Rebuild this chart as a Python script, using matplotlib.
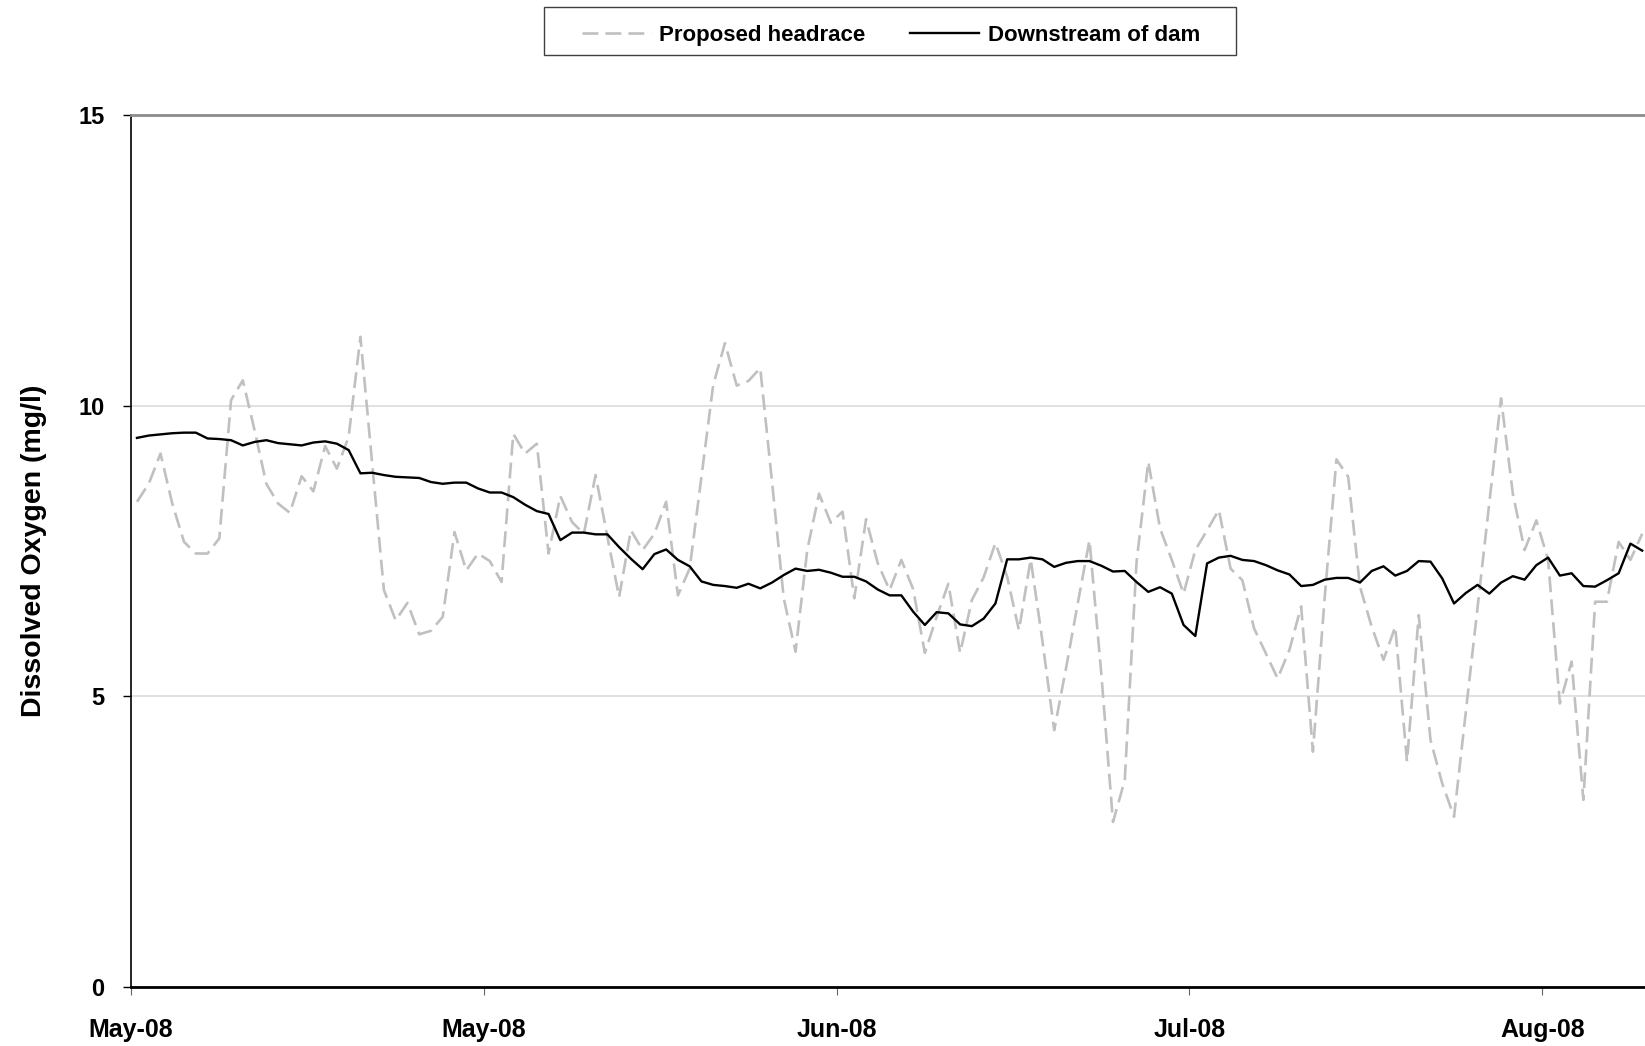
import matplotlib

matplotlib.use('Agg')

import matplotlib.dates as mdates
import matplotlib.patches as patches
import matplotlib.pyplot as plt
import pandas as pd

plt.rcParams['font.family'] = ['Liberation Sans', 'DejaVu Sans']
plt.rcParams['font.weight'] = 'bold'

# 日均溶解氧 (mg/l)，从 2008-05-01 开始逐日
start_date = '2008-05-01'

headrace = [
    8.35, 8.66, 9.18, 8.32, 7.66, 7.46, 7.46, 7.72, 10.10, 10.44,
    9.58, 8.66, 8.32, 8.16, 8.79, 8.53, 9.31, 8.92, 9.47, 11.19,
    9.00, 6.83, 6.31, 6.61, 6.07, 6.13, 6.37, 7.83, 7.17, 7.46,
    7.33, 6.97, 9.52, 9.18, 9.35, 7.46, 8.45, 8.00, 7.80, 8.81,
    7.75, 6.71, 7.86, 7.52, 7.80, 8.35, 6.74, 7.20, 8.78, 10.36,
    11.08, 10.35, 10.43, 10.65, 8.70, 6.69, 5.77, 7.52, 8.49, 7.99,
    8.18, 6.69, 8.05, 7.29, 6.83, 7.35, 6.85, 5.75, 6.37, 6.94,
    5.75, 6.66, 7.05, 7.64, 7.06, 6.14, 7.36, 5.95, 4.42, 5.48,
    6.60, 7.69, 5.40, 2.84, 3.56, 7.31, 9.04, 7.89, 7.35, 6.77,
    7.52, 7.86, 8.21, 7.20, 7.00, 6.17, 5.74, 5.31, 5.80, 6.55,
    4.05, 6.70, 9.08, 8.78, 6.89, 6.20, 5.63, 6.20, 3.88, 6.40,
    4.25, 3.50, 2.93, 4.73, 6.53, 8.33, 10.13, 8.49, 7.52, 8.03,
    7.35, 4.88, 5.60, 3.22, 6.63, 6.63, 7.66, 7.35, 7.80,
]

downstream = [
    9.45, 9.49, 9.51, 9.53, 9.54, 9.54, 9.44, 9.43, 9.41, 9.32,
    9.38, 9.41, 9.36, 9.34, 9.32, 9.37, 9.39, 9.35, 9.24, 8.84,
    8.85, 8.81, 8.78, 8.77, 8.76, 8.69, 8.66, 8.68, 8.68, 8.58,
    8.51, 8.51, 8.43, 8.30, 8.19, 8.14, 7.69, 7.82, 7.82, 7.79,
    7.79, 7.57, 7.37, 7.19, 7.45, 7.53, 7.35, 7.24, 6.98, 6.92,
    6.90, 6.87, 6.94, 6.86, 6.96, 7.09, 7.20, 7.16, 7.18, 7.13,
    7.06, 7.06, 6.98, 6.84, 6.74, 6.74, 6.46, 6.23, 6.45, 6.43,
    6.24, 6.21, 6.34, 6.60, 7.36, 7.36, 7.39, 7.36, 7.23, 7.30,
    7.33, 7.33, 7.25, 7.15, 7.16, 6.97, 6.80, 6.88, 6.77, 6.23,
    6.04, 7.29, 7.39, 7.42, 7.35, 7.33, 7.26, 7.17, 7.10, 6.90,
    6.92, 7.01, 7.04, 7.04, 6.96, 7.16, 7.24, 7.08, 7.16, 7.33,
    7.32, 7.03, 6.60, 6.78, 6.92, 6.77, 6.96, 7.07, 7.01, 7.26,
    7.39, 7.08, 7.12, 6.90, 6.89, 7.00, 7.12, 7.63, 7.51,
]

series_labels = ['Proposed headrace', 'Downstream of dam']
y_ticks = [0, 5, 10, 15]
tick_step_days = 30


def main():
    t0 = pd.Timestamp(start_date)
    # 每个点画在当天的中间
    dates = pd.date_range(t0, periods=len(headrace), freq='D') + pd.Timedelta(hours=12)

    fig = plt.figure(figsize=(16.45, 10.46), dpi=100)
    ax = fig.add_axes([0.0797, 0.0564, 0.9203, 0.8333])

    ax.plot(dates, headrace, color='#c0c0c0', lw=1.9,
            linestyle=(0, (6, 2.7)), label=series_labels[0])
    ax.plot(dates, downstream, color='black', lw=1.7,
            label=series_labels[1])

    ax.set_ylim(0, 15)
    ax.set_yticks(y_ticks)
    ax.set_xlim(t0, t0 + pd.Timedelta(days=128.74))
    ticks = pd.date_range(t0, periods=5, freq=f'{tick_step_days}D')
    ax.set_xticks(ticks)
    ax.xaxis.set_major_formatter(mdates.DateFormatter('%b-%y'))

    ax.grid(axis='y', color='#d9d9d9', lw=1.1)
    ax.set_axisbelow(True)

    ax.spines['right'].set_visible(False)
    ax.spines['top'].set_color('#8c8c8c')
    ax.spines['top'].set_linewidth(2.0)
    ax.spines['left'].set_linewidth(1.2)
    ax.spines['bottom'].set_linewidth(2.0)

    ax.tick_params(axis='y', direction='out', length=6, width=1,
                   pad=13, labelsize=17)
    ax.tick_params(axis='x', direction='out', length=6, width=0.8,
                   color='#666666', pad=16, labelsize=18)
    for lbl in ax.get_xticklabels() + ax.get_yticklabels():
        lbl.set_fontweight('bold')

    ax.set_ylabel('Dissolved Oxygen (mg/l)', fontsize=20.5, fontweight='bold')
    ax.yaxis.set_label_coords(-0.0555, 0.5)

    # 图例放在图的上方，外框单独画
    fig.legend(loc='center', bbox_to_anchor=(0.5416, 0.9665), ncol=2,
               frameon=False, handlelength=3.1,
               handletextpad=0.4, columnspacing=2.0,
               prop={'weight': 'bold', 'size': 16})
    box = patches.Rectangle((544 / 1645, 1 - 55 / 1046),
                            (1236 - 544) / 1645, 48 / 1046,
                            transform=fig.transFigure, fill=False,
                            edgecolor='#404040', lw=1.0)
    fig.patches.append(box)

    fig.savefig('out.png', dpi=100)


if __name__ == '__main__':
    main()
